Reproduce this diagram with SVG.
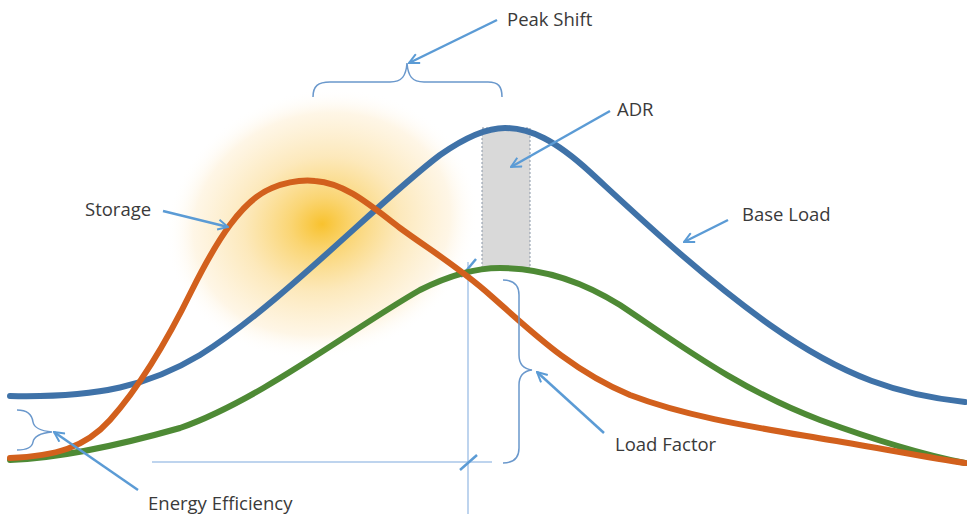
<svg xmlns="http://www.w3.org/2000/svg" width="967" height="514" viewBox="0 0 967 514">
<defs>
<radialGradient id="glow" cx="0.5" cy="0.5" r="0.5">
<stop offset="0" stop-color="#f8c22e" stop-opacity="1"/>
<stop offset="0.2" stop-color="#fad36c" stop-opacity="0.95"/>
<stop offset="0.5" stop-color="#fce5b0" stop-opacity="0.85"/>
<stop offset="0.82" stop-color="#fef3de" stop-opacity="0.75"/>
<stop offset="1" stop-color="#ffffff" stop-opacity="0"/>
</radialGradient>
<marker id="ah" viewBox="0 0 12 12" refX="11" refY="6" markerWidth="12" markerHeight="12" markerUnits="userSpaceOnUse" orient="auto">
<path d="M1,1 L11,6 L1,11" fill="none" stroke="#5b9bd5" stroke-width="2"/>
</marker>
<style>
.lbl{font-family:"Open Sans","Liberation Sans",Arial,sans-serif;font-size:18.5px;fill:#3a3a3a}
.arr{fill:none;stroke:#5b9bd5;stroke-width:2.5;marker-end:url(#ah)}
.brace{fill:none;stroke:#6a98cc;stroke-width:1.5}
.guide{fill:none;stroke:#a9c6e8;stroke-width:1.5}
.tick{fill:none;stroke:#5b9bd5;stroke-width:2.5}
.curve{fill:none;stroke-width:6;stroke-linecap:round}
</style>
</defs>
<rect width="967" height="514" fill="#ffffff"/>
<ellipse cx="322" cy="224" rx="158" ry="134" fill="url(#glow)" transform="rotate(-15 322 224)"/>
<g id="adr-band">
<rect x="482" y="128" width="48" height="140" fill="#d9d9d9" stroke="#8a97a8" stroke-width="1" stroke-dasharray="2,2"/>
</g>
<g id="guides">
<path class="guide" d="M468,262 L468,514"/>
<path class="guide" d="M152,462 L492,462"/>
<path class="tick" d="M461,277 L476,259"/>
<path class="tick" d="M460,470 L477,455"/>
</g>
<g id="green-curve">
<path class="curve" stroke="#4e8a35" d="M10,460 C60,458 120,445 180,428 C260,400 350,330 420,290 C450,275 475,268 500,268 C540,268 580,280 620,305 C680,345 740,390 820,420 C880,442 925,455 965,463"/>
</g>
<g id="base-load-curve">
<path class="curve" stroke="#3f72a8" d="M10,396 C100,398 150,385 200,355 C280,305 380,200 440,155 C470,134 490,128 505,128 C530,128 555,140 590,172 C640,218 700,275 770,325 C845,378 900,395 965,402"/>
</g>
<g id="storage-curve">
<path class="curve" stroke="#d2601d" d="M10,458 C55,456 85,448 110,420 C135,392 165,345 192,290 C217,240 242,200 272,188 C292,180 305,180 315,181 C345,183 370,205 400,228 C430,250 460,268 490,295 C530,330 570,370 630,395 C690,418 760,428 830,440 C890,450 930,458 965,463"/>
</g>
<g id="peak-shift">
<path class="brace" d="M313,97 C313,86 318,82 330,82 L390,82 C402,82 406,76 407,63 C408,76 412,82 424,82 L488,82 C498,82 502,86 502,97"/>
<text class="lbl" x="507" y="26">Peak Shift</text>
</g>
<g id="adr">
<text class="lbl" x="617" y="116">ADR</text>
</g>
<g id="storage">
<text class="lbl" x="85" y="216">Storage</text>
</g>
<g id="base-load">
<text class="lbl" x="742" y="221">Base Load</text>
</g>
<g id="load-factor">
<path class="brace" d="M503,280 C513,280 519,285 519,295 L519,355 C519,365 524,369 532,370 C524,371 519,375 519,385 L519,448 C519,458 513,463 503,463"/>
<text class="lbl" x="615" y="451">Load Factor</text>
</g>
<g id="energy-efficiency">
<path class="brace" d="M17,410 C26,410 32,414 33,422 C34,428 42,431 52,432 C42,433 34,436 33,442 C32,448 26,450 17,450"/>
<text class="lbl" x="148" y="510">Energy Efficiency</text>
</g>
<g id="connectors">
<path class="arr" d="M497,20 L409,63"/>
<path class="arr" d="M610,111 L511,167"/>
<path class="arr" d="M163,211 L228,227"/>
<path class="arr" d="M728,220 L684,242"/>
<path class="arr" d="M604,433 L537,372"/>
<path class="arr" d="M138,490 L54,432"/>
</g>
</svg>
